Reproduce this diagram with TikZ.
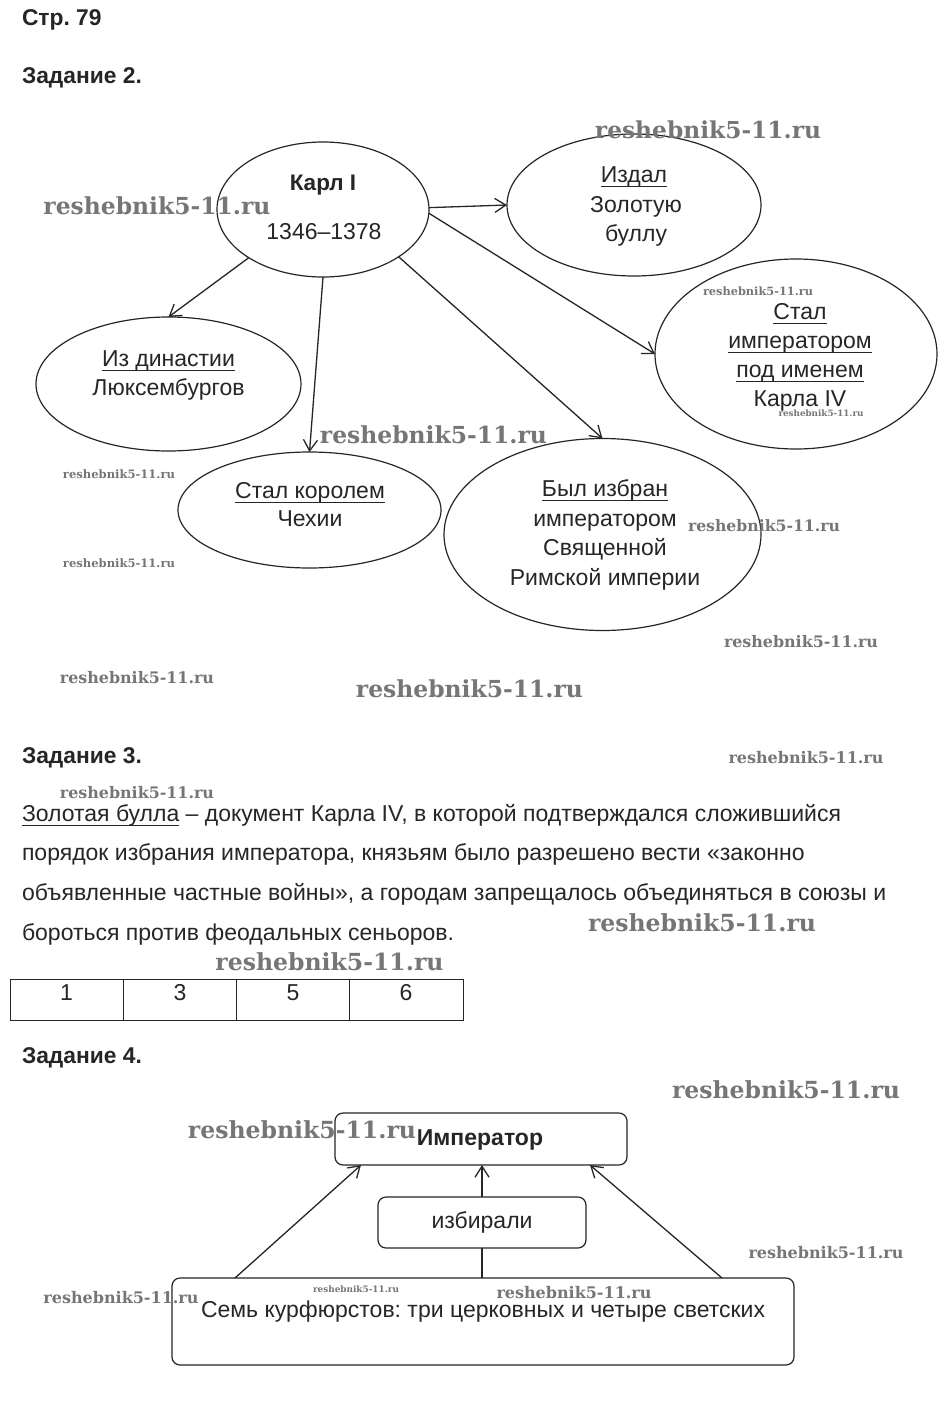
\documentclass[tikz,border=0pt]{standalone}
\usepackage{fontspec}
\setmainfont{Liberation Sans}
\newfontfamily\wmfont{DejaVu Serif}
\usetikzlibrary{arrows.meta,shapes.geometric}
\definecolor{wmgray}{HTML}{767676}
\definecolor{ink}{HTML}{262626}
\frenchspacing
\newcommand\uln[1]{\setbox0\hbox{#1}\rlap{\rule[-4.5pt]{\wd0}{1pt}}\box0\relax}
\newcommand\wmk[1]{\resizebox{#1}{!}{\wmfont\bfseries reshebnik5-11.ru}}
\begin{document}
\begin{tikzpicture}[x=1pt,y=-1pt,
  every node/.style={inner sep=0pt,outer sep=0pt},
  txt/.style={font=\fontsize{23}{27}\selectfont,text=ink,anchor=base},
  ptxt/.style={font=\fontsize{23}{27}\selectfont,text=ink,anchor=base west},
  hdr/.style={font=\fontsize{22.8}{27}\selectfont\bfseries,text=ink,anchor=base west},
  oval/.style={draw=ink,ellipse,line width=1.2pt},
  rbox/.style={draw=ink,rectangle,rounded corners=8pt,line width=1.2pt},
  cell/.style={draw=ink,rectangle,line width=1pt},
  arr/.style={draw=ink,line width=1.3pt,-{Straight Barb[length=11pt,width=14pt]}},
  conn/.style={draw=ink,line width=1.2pt},
  wm/.style={text=wmgray}
]
\path[fill=white,use as bounding box] (0,0) rectangle (951,1413);

% headers
\node[hdr] (h0) at (22,26) {Стр.\ 79};
\node[hdr] (h2) at (22,83.3) {Задание 2.};
\node[hdr] (h3) at (22,763.3) {Задание 3.};
\node[hdr] (h4) at (22,1063) {Задание 4.};

% task 2 ellipses
\node[oval,minimum width=212pt,minimum height=135pt] (karl) at (323,209.5) {};
\node[oval,minimum width=254pt,minimum height=142pt] (izdal) at (634,205) {};
\node[oval,minimum width=282pt,minimum height=190pt] (stal) at (796,354) {};
\node[oval,minimum width=265pt,minimum height=134pt] (iz) at (168.5,384) {};
\node[oval,minimum width=263pt,minimum height=116pt] (kor) at (309.5,510) {};
\node[oval,minimum width=317pt,minimum height=192pt] (byl) at (602.5,534.5) {};

\node[txt,font=\fontsize{22.5}{27}\selectfont\bfseries] (karl1) at (323,190.5) {Карл I};
\node[txt] (karl2) at (324,239.5) {1346–1378};

\node[txt] (izdal1) at (634,182) {\uln{Издал}};
\node[txt] (izdal2) at (636,212) {Золотую};
\node[txt] (izdal3) at (636,241.5) {буллу};

\node[txt] (stal1) at (800,319) {\uln{Стал}};
\node[txt] (stal2) at (800,348) {\uln{императором}};
\node[txt] (stal3) at (800,377.5) {\uln{под именем}};
\node[txt] (stal4) at (800,406) {Карла IV};

\node[txt] (iz1) at (168.5,366.7) {\uln{Из династии}};
\node[txt] (iz2) at (168.5,395) {Люксембургов};

\node[txt] (kor1) at (310,498.3) {\uln{Стал королем}};
\node[txt] (kor2) at (310,526.7) {Чехии};

\node[txt] (byl1) at (605,496) {\uln{Был избран}};
\node[txt] (byl2) at (605,526) {императором};
\node[txt] (byl3) at (605,555.5) {Священной};
\node[txt] (byl4) at (605,585) {Римской империи};

\draw[arr] (karl.1) -- (izdal.west);
\draw[arr] (karl.-2) -- (stal.west);
\draw[arr] (karl.213) -- (iz.north);
\draw[arr] (karl.south) -- (kor.north);
\draw[arr] (karl.-32) -- (byl.north);

% task 3
\node[ptxt] (p1) at (22,821) {\uln{Золотая булла} – документ Карла IV, в которой подтверждался сложившийся};
\node[ptxt] (p2) at (22,860.5) {порядок избрания императора, князьям было разрешено вести «законно};
\node[ptxt] (p3) at (22,900.5) {объявленные частные войны», а городам запрещалось объединяться в союзы и};
\node[ptxt] (p4) at (22,940) {бороться против феодальных сеньоров.};

\node[cell,minimum width=113pt,minimum height=41pt] (c1) at (66.5,999.5) {};
\node[cell,minimum width=113pt,minimum height=41pt] (c2) at (179.5,999.5) {};
\node[cell,minimum width=113pt,minimum height=41pt] (c3) at (292.5,999.5) {};
\node[cell,minimum width=114pt,minimum height=41pt] (c4) at (406,999.5) {};
\node[txt] (n1) at (66.5,1000) {1};
\node[txt] (n2) at (180,1000) {3};
\node[txt] (n3) at (293,1000) {5};
\node[txt] (n4) at (406,1000) {6};

% task 4
\node[rbox,minimum width=292pt,minimum height=52pt] (imp) at (481,1139) {};
\node[rbox,minimum width=208pt,minimum height=51pt] (izb) at (482,1222.5) {};
\node[rbox,minimum width=622pt,minimum height=87pt] (sem) at (483,1321.5) {};
\node[txt,font=\fontsize{23}{27}\selectfont\bfseries] (impt) at (480,1145) {Император};
\node[txt] (izbt) at (482,1228) {избирали};
\node[txt] (semt) at (483,1317.5) {Семь курфюрстов: три церковных и четыре светских};

\draw[arr] ([xshift=63pt]sem.north west) -- ([xshift=26pt]imp.south west);
\draw[arr] ([xshift=-72pt]sem.north east) -- ([xshift=-37pt]imp.south east);
\draw[arr] (izb.north) -- (izb.north |- imp.south);
\draw[conn] (izb.south) -- (izb.south |- sem.north);

% watermarks
\node[wm] (w1) at (708,130) {\wmk{226pt}};
\node[wm] (w2) at (157,206) {\wmk{227pt}};
\node[wm] (w3) at (758,291) {\wmk{110pt}};
\node[wm] (w4) at (821,413) {\wmk{85pt}};
\node[wm] (w5) at (433.5,435) {\wmk{227pt}};
\node[wm] (w6) at (119,474) {\wmk{112pt}};
\node[wm] (w7) at (764,526) {\wmk{152pt}};
\node[wm] (w8) at (119,562.7) {\wmk{112pt}};
\node[wm] (w9) at (801,641.7) {\wmk{154pt}};
\node[wm] (w10) at (137,677.7) {\wmk{154pt}};
\node[wm] (w11) at (469.5,689) {\wmk{227pt}};
\node[wm] (w12) at (806,758) {\wmk{155pt}};
\node[wm] (w13) at (137,793) {\wmk{154pt}};
\node[wm] (w14) at (702,922.5) {\wmk{228pt}};
\node[wm] (w15) at (329.5,961.7) {\wmk{228pt}};
\node[wm] (w16) at (786,1090) {\wmk{228pt}};
\node[wm] (w17) at (302,1130) {\wmk{228pt}};
\node[wm] (w18) at (826,1253) {\wmk{155pt}};
\node[wm] (w19) at (356,1289) {\wmk{86pt}};
\node[wm] (w20) at (574,1293) {\wmk{155pt}};
\node[wm] (w21) at (121,1297.5) {\wmk{155pt}};
\end{tikzpicture}
\end{document}
